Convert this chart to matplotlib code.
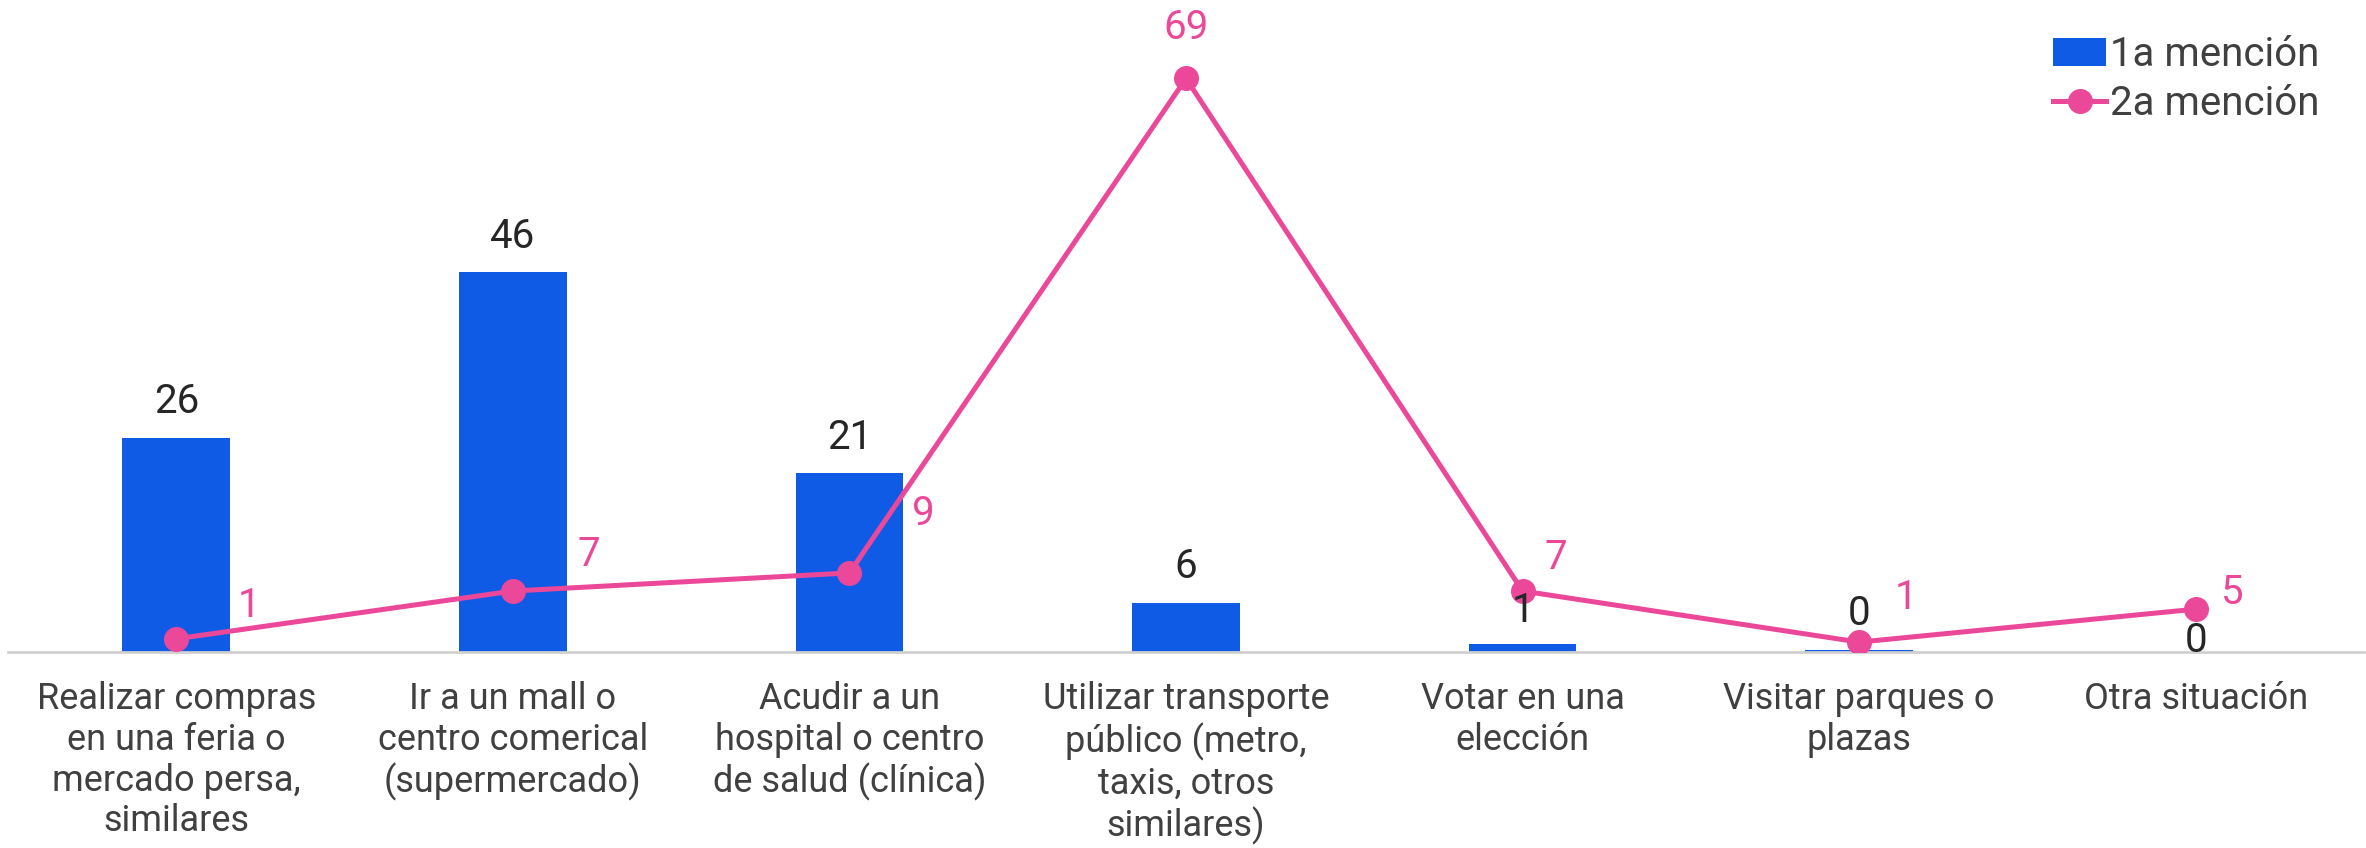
import matplotlib.pyplot as plt
import numpy as np

# datos
categorias = [
    "Realizar compras\nen una feria o\nmercado persa,\nsimilares",
    "Ir a un mall o\ncentro comerical\n(supermercado)",
    "Acudir a un\nhospital o centro\nde salud (clínica)",
    "Utilizar transporte\npúblico (metro,\ntaxis, otros\nsimilares)",
    "Votar en una\nelección",
    "Visitar parques o\nplazas",
    "Otra situación",
]
mencion_1 = [26.0, 46.1, 21.7, 6.0, 1.0, 0.3, 0.0]
mencion_2 = [1.6, 7.4, 9.6, 69.6, 7.4, 1.2, 5.2]

azul = "#0F5BE5"
rosa = "#EC4899"
gris_texto = "#404040"

plt.rcParams['font.family'] = ['Roboto', 'DejaVu Sans']

fig = plt.figure(figsize=(23.66, 8.48), dpi=100)
ax = fig.add_axes([8 / 2366, 1 - 652 / 848, 2356 / 2366, 652 / 848])

x = np.arange(len(categorias))
ax.bar(x, mencion_1, width=0.32, color=azul, label="1a mención", zorder=2)
ax.plot(x, mencion_2, color=rosa, linewidth=3.6, marker='o', markersize=17,
        label="2a mención", zorder=3)

# etiquetas de las barras
off_barras = [26, 26, 26, 26, 24, 26, 8]
for xi, v, off in zip(x, mencion_1, off_barras):
    ax.annotate(f"{int(v)}", (xi, v), xytext=(0, off), textcoords='offset points',
                ha='center', va='center', fontsize=29, color="#262626", zorder=4)

# etiquetas de la línea
off_linea = [(52, 24), (55, 26), (53, 43), (0, 37), (24, 24), (34, 32), (26, 12)]
for xi, v, off in zip(x, mencion_2, off_linea):
    ax.annotate(f"{int(v)}", (xi, v), xytext=off, textcoords='offset points',
                ha='center', va='center', fontsize=29, color=rosa, zorder=4)

ax.set_xlim(-0.5, len(categorias) - 0.5)
ax.set_ylim(0, 652 / 8.24)
ax.set_xticks(x)
ax.set_xticklabels(categorias, fontsize=26, color=gris_texto, linespacing=1.17, va='top')
ax.tick_params(axis='x', length=0, pad=21)
ax.set_yticks([])
for s in ['top', 'right', 'left']:
    ax.spines[s].set_visible(False)
ax.spines['bottom'].set_color("#D0D0D0")
ax.spines['bottom'].set_linewidth(2)

handles, labels = ax.get_legend_handles_labels()
orden = [labels.index("1a mención"), labels.index("2a mención")]
leg = ax.legend([handles[i] for i in orden], [labels[i] for i in orden],
                loc='upper right', bbox_to_anchor=(0.993, 0.99), frameon=False,
                fontsize=29, handlelength=1.3, handletextpad=0.1, labelspacing=0.25,
                borderaxespad=0.3)
for t in leg.get_texts():
    t.set_color(gris_texto)

fig.savefig("out.png", dpi=100)
